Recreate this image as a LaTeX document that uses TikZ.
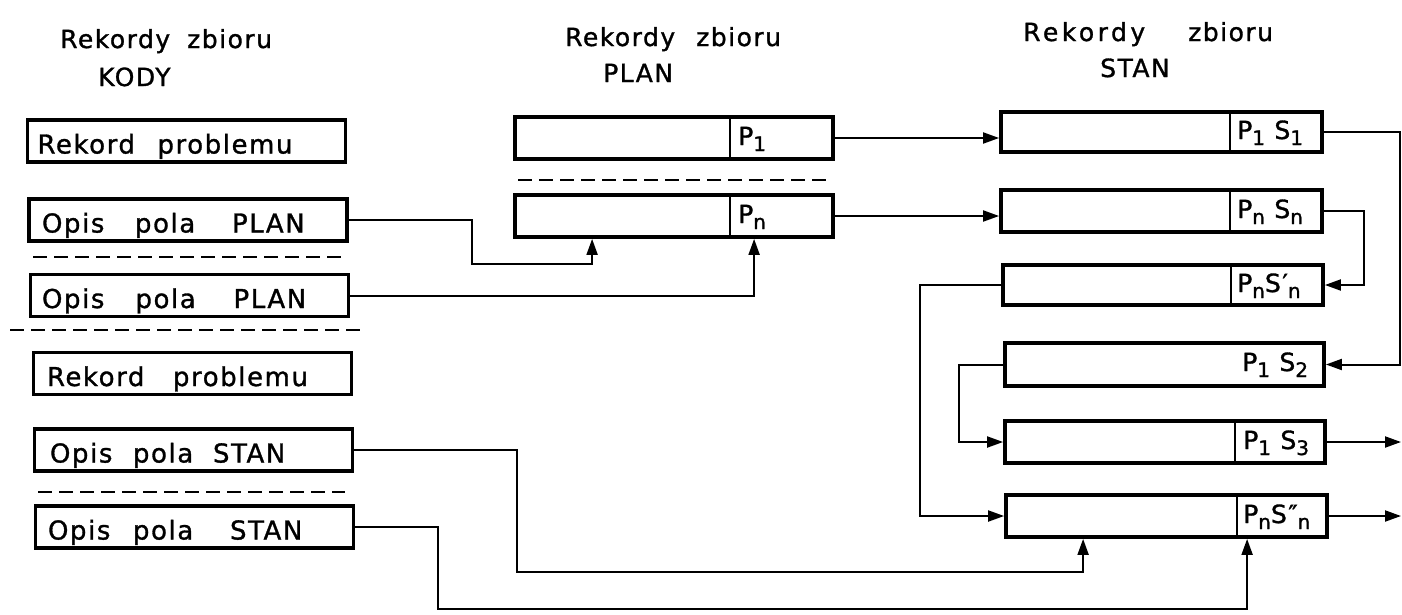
\documentclass[tikz,border=0pt]{standalone}
\usepackage{fontspec}
\setmainfont{DejaVu Sans}[LetterSpace=6,FakeBold=1.2]
\usetikzlibrary{arrows.meta,calc}
\newcommand\lo[1]{\raisebox{-6pt}{\fontsize{20}{20}\selectfont #1}}
\newcommand\wb[2]{\makebox[#1pt][l]{#2}}
\begin{document}
\begin{tikzpicture}[x=1pt,y=-1pt,
 kbox/.style={draw, line width=3.8pt, minimum height=42pt, text width=298pt, text height=25pt, text depth=0pt, inner xsep=10pt, inner ysep=0pt, align=left, font=\fontsize{26}{26}\selectfont},
 rbox/.style={draw, line width=3.8pt, minimum height=42pt, inner sep=0pt},
 divider/.style={line width=2.6pt},
 lab/.style={anchor=base west, inner sep=0pt, font=\fontsize{25}{25}\selectfont},
 head/.style={anchor=base west, inner sep=0pt, font=\fontsize{25}{25}\selectfont},
 conn/.style={line width=2pt, -{Triangle[length=16pt 0 0,width=11pt 0 0]}},
 sep/.style={line width=2.4pt, dash pattern=on 14pt off 7pt}]
\useasboundingbox (0,0) rectangle (1402,614);
% headers
\node[head] (hk1) at (60,48) {\wb{127}{Rekordy}zbioru};
\node[head] (hk2) at (98,86) {KODY};
\node[head] (hp1) at (565,46) {\wb{131}{Rekordy}zbioru};
\node[head] (hp2) at (603,82) {PLAN};
\node[head] (hs1) at (1023,41) {\wb{165}{\addfontfeature{LetterSpace=14}Rekordy}zbioru};
\node[head] (hs2) at (1100,77) {STAN};
% KODY boxes
\node[kbox] (k1) at (186.5,141) {\wb{120}{Rekord}problemu};
\node[kbox] (k2) at (188,220) {\hspace{3pt}\wb{93}{Opis}\wb{97}{pola}PLAN};
\node[kbox] (k3) at (189.5,295.5) {\hspace{1.5pt}\wb{93.5}{Opis}\wb{98}{pola}PLAN};
\node[kbox] (k4) at (192.5,373.5) {\hspace{3.5pt}\wb{126}{Rekord}problemu};
\node[kbox] (k5) at (193.5,450) {\hspace{5.5pt}\wb{83}{Opis}\wb{80}{pola}STAN};
\node[kbox] (k6) at (194.5,527) {\hspace{2.5pt}\wb{85}{Opis}\wb{97}{pola}STAN};
\draw[sep] (33,257) -- (342,257);
\draw[sep] (10,330) -- (365,330);
\draw[sep] (38,492) -- (345,492);
% PLAN boxes
\node[rbox, minimum width=318pt] (pl1) at (674,138) {};
\node[rbox, minimum width=318pt] (pl2) at (674,216) {};
\draw[divider] ([xshift=217pt]pl1.north west) -- ([xshift=217pt]pl1.south west);
\draw[divider] ([xshift=217pt]pl2.north west) -- ([xshift=217pt]pl2.south west);
\node[lab] (lp1) at (738,145) {P\lo{1}};
\node[lab] (lp2) at (738,223) {P\lo{n}};
\draw[sep] (518,180) -- (833,180);
% STAN boxes
\node[rbox, minimum width=321pt, minimum height=40pt] (st1) at (1161.5,132) {};
\node[rbox, minimum width=321pt] (st2) at (1161.5,211) {};
\node[rbox, minimum width=320pt, minimum height=40pt] (st3) at (1163,285) {};
\node[rbox, minimum width=319pt, minimum height=43pt] (st4) at (1164.5,364.5) {};
\node[rbox, minimum width=320pt] (st5) at (1165,442) {};
\node[rbox, minimum width=321pt] (st6) at (1166.5,516) {};
\draw[divider] ([xshift=231pt]st1.north west) -- ([xshift=231pt]st1.south west);
\draw[divider] ([xshift=231pt]st2.north west) -- ([xshift=231pt]st2.south west);
\draw[divider] ([xshift=230pt]st3.north west) -- ([xshift=230pt]st3.south west);
\draw[divider] ([xshift=232pt]st5.north west) -- ([xshift=232pt]st5.south west);
\draw[divider] ([xshift=233pt]st6.north west) -- ([xshift=233pt]st6.south west);
\node[lab] (ls1) at (1237,139) {P\lo{1} S\lo{1}};
\node[lab] (ls2) at (1237,218) {P\lo{n} S\lo{n}};
\node[lab] (ls3) at (1237,292) {P\lo{n}S′\lo{n}};
\node[lab] (ls4) at (1242,371) {P\lo{1} S\lo{2}};
\node[lab] (ls5) at (1243,449) {P\lo{1} S\lo{3}};
\node[lab] (ls6) at (1243,523) {P\lo{n}S″\lo{n}};
% connectors
\draw[conn] (k2.east) -| (472,264) -| ([xshift=79pt]pl2.south west);
\draw[conn] (k3.east) -| ([xshift=241pt]pl2.south west);
\draw[conn] (pl1.east) -- (pl1.east -| st1.west);
\draw[conn] (pl2.east) -- (pl2.east -| st2.west);
\draw[conn] (st1.east) -- ++(76,0) |- (st4.east);
\draw[conn] (st2.east) -- ++(40,0) |- (st3.east);
\draw[conn] (st3.west) -- ++(-81,0) |- (st6.west);
\draw[conn] (st4.west) -- ++(-44,0) |- (st5.west);
\coordinate (o5) at (1401,442);
\coordinate (o6) at (1401,516);
\draw[conn] (st5.east) -- (o5);
\draw[conn] (st6.east) -- (o6);
\draw[conn] (k5.east) -| (517,572) -| ([xshift=79pt]st6.south west);
\draw[conn] (k6.east) -| (438,609) -| ([xshift=243pt]st6.south west);
\end{tikzpicture}
\end{document}
